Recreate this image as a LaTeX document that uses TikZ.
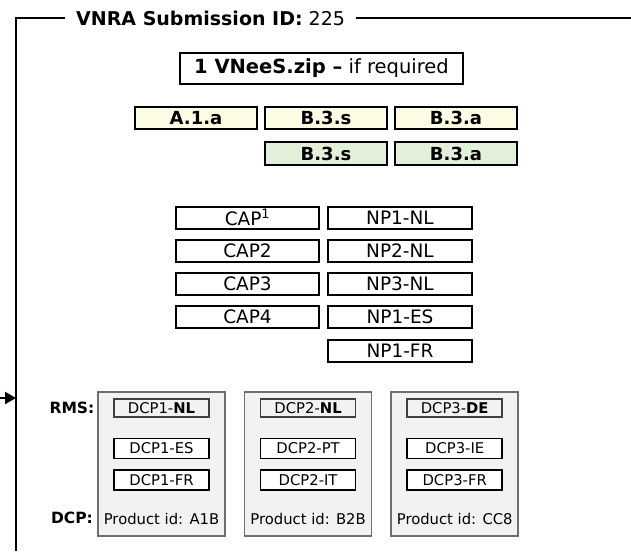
\documentclass[tikz,border=0pt]{standalone}
\usepackage{fontspec}
\setmainfont{DejaVu Sans}
\usetikzlibrary{positioning,arrows.meta}

\definecolor{ivory}{HTML}{FDFDE6}
\definecolor{sage}{HTML}{E2EFD9}
\definecolor{panel}{HTML}{F2F2F2}
\definecolor{rim}{HTML}{6E6E6E}

\tikzset{
  frame/.style={line width=2pt},
  box/.style={draw, line width=2pt, inner sep=0pt},
  code/.style={box, minimum width=122pt, minimum height=22pt,
    font=\fontsize{18}{18}\selectfont\bfseries},
  part/.style={box, minimum height=22pt, font=\fontsize{18.5}{18}\selectfont},
  prod/.style={draw=rim, fill=panel, line width=1.6pt, minimum width=127pt,
    minimum height=144pt, inner sep=0pt},
  dcp/.style={draw, fill=white, line width=1.5pt, minimum width=95pt,
    minimum height=20pt, inner sep=0pt, font=\fontsize{14.8}{15}\selectfont},
  rms/.style={dcp, draw=black!75, fill=panel, minimum height=18pt},
  tag/.style={font=\fontsize{15.5}{16}\selectfont\bfseries}
}

\begin{document}
\begin{tikzpicture}[x=1pt,y=-1pt,node distance=6pt]
  \useasboundingbox (0,0) rectangle (631,551);

  % outer frame
  \node[anchor=west, inner xsep=11pt, font=\fontsize{19}{19}\selectfont]
    (title) at (65,18) {\textbf{VNRA Submission ID:} 225};
  \coordinate (tl) at (16,18);
  \coordinate (bl) at (16,551);
  \coordinate (tr) at (631,18);
  \coordinate (feed) at (0,398);
  \draw[frame] (title.west) -- (tl) -- (bl);
  \draw[frame] (title.east) -- (tr);
  \draw[frame, -{Triangle[length=11pt,width=12pt]}] (feed) -- (feed -| bl);

  \node[box, minimum width=283pt, minimum height=31pt,
        font=\fontsize{19.5}{19}\selectfont] (zip) at (321.5,68.5)
        {\textbf{1 VNeeS.zip –} if required};

  % module codes
  \node[code, fill=ivory] (a1a)               at (196,118) {A.1.a};
  \node[code, fill=ivory] (b3s) [right=of a1a] {B.3.s};
  \node[code, fill=ivory] (b3a) [right=of b3s] {B.3.a};
  \node[code, fill=sage, minimum height=23pt] (b3s2) [below=11pt of b3s] {B.3.s};
  \node[code, fill=sage, minimum height=23pt] (b3a2) [below=11pt of b3a] {B.3.a};

  % procedures
  \node[part, minimum width=143pt] (cap1) at (247.5,217.5) {CAP\textsuperscript{1}};
  \node[part, minimum width=143pt] (cap2) [below=9pt of cap1] {CAP2};
  \node[part, minimum width=143pt] (cap3) [below=9pt of cap2] {CAP3};
  \node[part, minimum width=143pt] (cap4) [below=9pt of cap3] {CAP4};
  \node[part, minimum width=144pt] (np1nl) [right=7pt of cap1] {NP1-NL};
  \node[part, minimum width=144pt] (np2nl) [right=7pt of cap2] {NP2-NL};
  \node[part, minimum width=144pt] (np3nl) [right=7pt of cap3] {NP3-NL};
  \node[part, minimum width=144pt] (np1es) [right=7pt of cap4] {NP1-ES};
  \node[part, minimum width=144pt] (np1fr) [below=10pt of np1es] {NP1-FR};

  % products
  \node[tag] (rmstag) at (72,408) {RMS:};
  \node[tag] (dcptag) at (72,518) {DCP:};

  \node[prod] (p1) at (161.5,464) {};
  \node[prod] (p2) [right=18pt of p1] {};
  \node[prod] (p3) [right=18pt of p2] {};

  \node[rms] (nl1) [below=7pt of p1.north] {DCP1-\textbf{NL}};
  \node[dcp] (es1) [below=20pt of nl1] {DCP1-ES};
  \node[dcp] (fr1) [below=10pt of es1] {DCP1-FR};
  \node[font=\fontsize{14.8}{15}\selectfont] (id1) [above=9pt of p1.south] {Product id: A1B};

  \node[rms] (nl2) [below=7pt of p2.north] {DCP2-\textbf{NL}};
  \node[dcp] (pt2) [below=20pt of nl2] {DCP2-PT};
  \node[dcp] (it2) [below=10pt of pt2] {DCP2-IT};
  \node[font=\fontsize{14.8}{15}\selectfont] (id2) [above=9pt of p2.south] {Product id: B2B};

  \node[rms] (de3) [below=7pt of p3.north] {DCP3-\textbf{DE}};
  \node[dcp] (ie3) [below=20pt of de3] {DCP3-IE};
  \node[dcp] (fr3) [below=10pt of ie3] {DCP3-FR};
  \node[font=\fontsize{14.8}{15}\selectfont] (id3) [above=9pt of p3.south] {Product id: CC8};
\end{tikzpicture}
\end{document}
